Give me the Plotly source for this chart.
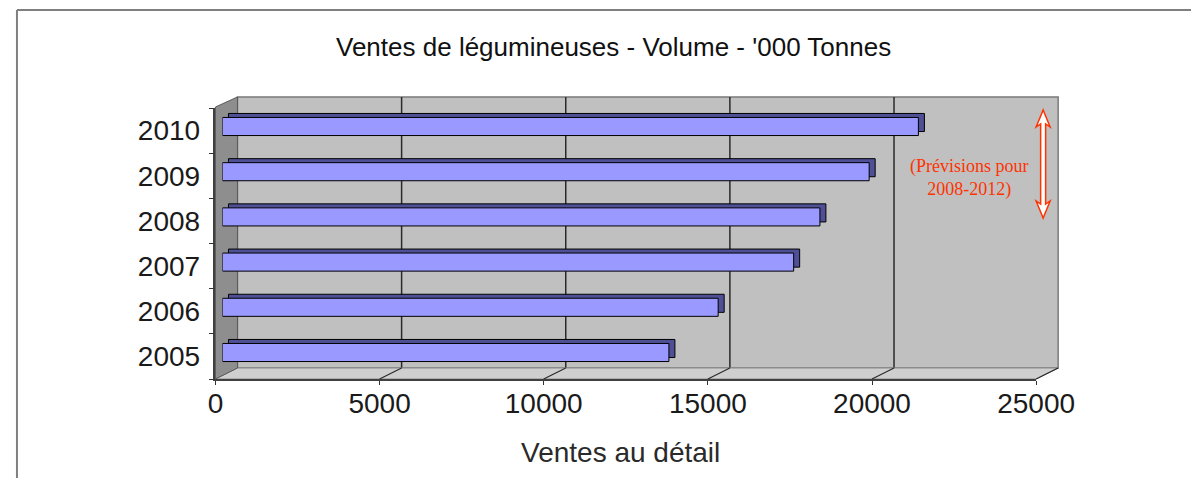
import plotly.graph_objects as go

# ---------------- data ----------------
years = ["2005", "2006", "2007", "2008", "2009", "2010"]
volumes = [13600, 15100, 17400, 18200, 19700, 21200]
x_ticks = [0, 5000, 10000, 15000, 20000, 25000]
x_tick_text = ["0", "5000", "10000", "15000", "20000", "25000"]
title_text = "Ventes de légumineuses - Volume - '000 Tonnes"
x_title_text = "Ventes au détail"
note_text = "(Prévisions pour<br>2008-2012)"

# ---------------- geometry (target picture pixels) ----------------
SX, SO = 0.961, 15.7     # measured horizontal mapping of the rendered page
OY = 8                   # vertical page offset
FW, FH = 1230, 470
X_MAX = 25000
FRONT_X0, FRONT_X1 = 215, 1035          # front plane of the floor
FRONT_YB, FRONT_YT = 379, 108           # front plane category axis
DEPTH_DX, DEPTH_DY = 22, -11            # 3-D depth of the box
BAR_X0, BAR_X1 = 222, 1042              # plane of bar front faces
BAR_YB, BAR_YT = 375.1, 103.9
BAR_DX, BAR_DY = 6, 4                   # bar depth (px)
BAR_W = 0.40


def px(x):
    return ((x - SO) / SX) / FW


def py(y):
    return 1 - (y - OY) / FH


scale = (FRONT_X1 - FRONT_X0) / X_MAX    # px per unit
bar_units_per_px = X_MAX / (BAR_X1 - BAR_X0)
cat_units_per_px = 6 / (BAR_YB - BAR_YT)

fig = go.Figure()

# invisible trace to build the front axis pair
fig.add_trace(go.Scatter(x=[0] * len(years), y=years, mode="markers",
                         marker=dict(opacity=0), showlegend=False,
                         hoverinfo="skip", xaxis="x", yaxis="y"))

# bar depth (top face + end cap)
fig.add_trace(go.Bar(x=volumes, y=years, orientation="h",
                     base=BAR_DX * bar_units_per_px,
                     offset=-BAR_W / 2 + BAR_DY * cat_units_per_px,
                     width=BAR_W,
                     marker=dict(color="#4F4F96", line=dict(color="#000000", width=1)),
                     showlegend=False, hoverinfo="skip", xaxis="x2", yaxis="y2"))
# bar front faces
fig.add_trace(go.Bar(x=volumes, y=years, orientation="h",
                     offset=-BAR_W / 2, width=BAR_W,
                     marker=dict(color="#9999FF", line=dict(color="#000000", width=1)),
                     showlegend=False, xaxis="x2", yaxis="y2"))

shapes = []
bx0, bx1 = FRONT_X0 + DEPTH_DX, FRONT_X1 + DEPTH_DX
by_b, by_t = FRONT_YB + DEPTH_DY, FRONT_YT + DEPTH_DY
# back wall
shapes.append(dict(type="rect", xref="paper", yref="paper", layer="below",
                   x0=px(bx0), x1=px(bx1), y0=py(by_b), y1=py(by_t),
                   fillcolor="#C0C0C0", line=dict(color="#7A7A7A", width=1.5)))
# back wall gridlines
for v in x_ticks[1:-1]:
    gx = bx0 + v * scale
    shapes.append(dict(type="line", xref="paper", yref="paper", layer="below",
                       x0=px(gx), x1=px(gx), y0=py(by_b), y1=py(by_t),
                       line=dict(color="#2A2A2A", width=1.5)))
# floor
shapes.append(dict(type="path", xref="paper", yref="paper", layer="below",
                   path=f"M{px(FRONT_X0)},{py(FRONT_YB)} L{px(FRONT_X1)},{py(FRONT_YB)} "
                        f"L{px(bx1)},{py(by_b)} L{px(bx0)},{py(by_b)} Z",
                   fillcolor="#CFCFCF", line=dict(color="#8A8A8A", width=1)))
# floor gridlines
for v in x_ticks[1:]:
    fx = FRONT_X0 + v * scale
    shapes.append(dict(type="line", xref="paper", yref="paper", layer="below",
                       x0=px(fx), x1=px(fx + DEPTH_DX), y0=py(FRONT_YB), y1=py(by_b),
                       line=dict(color="#2A2A2A", width=1.2)))
# left wall
shapes.append(dict(type="path", xref="paper", yref="paper", layer="below",
                   path=f"M{px(FRONT_X0)},{py(FRONT_YT - 1)} L{px(bx0)},{py(by_t)} "
                        f"L{px(bx0)},{py(by_b)} L{px(FRONT_X0)},{py(FRONT_YB)} Z",
                   fillcolor="#8E8E8E", line=dict(color="#5A5A5A", width=1)))
# double-headed hollow arrow
cx = 1042
ytop, ybot, head, hw, sw = 110, 218, 17, 7, 2.5
pts = [(cx, ytop), (cx + hw, ytop + head), (cx + sw, ytop + head - 3),
       (cx + sw, ybot - head + 3), (cx + hw, ybot - head), (cx, ybot),
       (cx - hw, ybot - head), (cx - sw, ybot - head + 3),
       (cx - sw, ytop + head - 3), (cx - hw, ytop + head)]
path = "M" + " L".join(f"{px(a)},{py(b)}" for a, b in pts) + " Z"
shapes.append(dict(type="path", xref="paper", yref="paper", layer="above",
                   path=path, fillcolor="#FFFFFF", line=dict(color="#FF3300", width=1.5)))
# outer chart border (top and left visible)
left_edge = max(px(9), 1 / FW)
shapes.append(dict(type="line", xref="paper", yref="paper", x0=left_edge, x1=1,
                   y0=py(10), y1=py(10), line=dict(color="#7F7F7F", width=2)))
shapes.append(dict(type="line", xref="paper", yref="paper", x0=left_edge, x1=left_edge,
                   y0=py(10), y1=0, line=dict(color="#7F7F7F", width=2)))

tick_font = dict(family="Liberation Sans, Arial, sans-serif", size=28, color="#1A1A1A")

fig.update_layout(
    width=FW, height=FH,
    margin=dict(l=0, r=0, t=0, b=0),
    paper_bgcolor="#FFFFFF", plot_bgcolor="rgba(0,0,0,0)",
    barmode="overlay", showlegend=False,
    shapes=shapes,
    xaxis=dict(domain=[px(FRONT_X0), px(FRONT_X1)], range=[0, X_MAX], anchor="y",
               tickmode="array", tickvals=x_ticks, ticktext=x_tick_text,
               ticks="outside", ticklen=4, tickcolor="#333333",
               showline=True, linecolor="#404040", linewidth=1.5,
               showgrid=False, zeroline=False, tickfont=tick_font,
               ticklabelstandoff=-5, fixedrange=True),
    yaxis=dict(domain=[py(FRONT_YB), py(FRONT_YT)], type="category",
               categoryorder="array", categoryarray=years, range=[-0.5, 5.5],
               anchor="x", tickson="boundaries", ticks="outside", ticklen=5,
               tickcolor="#333333", showline=True, linecolor="#404040", linewidth=1.5,
               showgrid=False, zeroline=False, tickfont=tick_font,
               ticklabelstandoff=8, fixedrange=True),
    xaxis2=dict(domain=[px(BAR_X0), px(BAR_X1)], range=[0, X_MAX], anchor="y2",
                visible=False, fixedrange=True),
    yaxis2=dict(domain=[py(BAR_YB), py(BAR_YT)], type="category",
                categoryorder="array", categoryarray=years, range=[-0.5, 5.5],
                anchor="x2", visible=False, fixedrange=True),
    annotations=[
        dict(text=title_text, xref="paper", yref="paper", x=px(613), y=py(47),
             xanchor="center", yanchor="middle", showarrow=False,
             font=dict(family="Liberation Sans, Arial, sans-serif", size=26, color="#111111")),
        dict(text=x_title_text, xref="paper", yref="paper", x=px(620), y=py(452),
             xanchor="center", yanchor="middle", showarrow=False,
             font=dict(family="Liberation Sans, Arial, sans-serif", size=28, color="#2A2A2A")),
        dict(text=note_text, xref="paper", yref="paper", x=px(968), y=py(178),
             xanchor="center", yanchor="middle", showarrow=False,
             font=dict(family="Liberation Serif, Times New Roman, serif", size=18, color="#FF3300")),
    ],
)

fig.write_html("out.html")
